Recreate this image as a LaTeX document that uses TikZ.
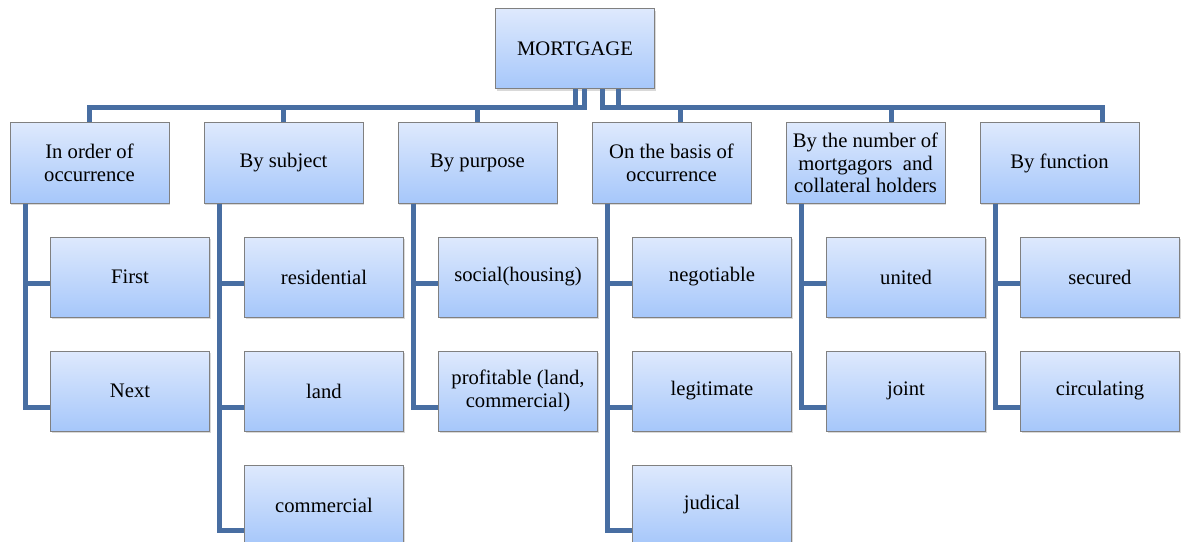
\documentclass[tikz,border=0pt]{standalone}
\usepackage{fontspec}
\setmainfont{Liberation Serif}
\newfontfamily\boxfont{Liberation Serif}
\usepackage{tikz}
\usetikzlibrary{shadows}

\definecolor{boxtop}{RGB}{222,233,253}
\definecolor{boxbot}{RGB}{166,199,250}
\definecolor{boxgray}{RGB}{128,128,128}
\definecolor{linkblue}{RGB}{72,110,162}

\begin{document}
\begin{tikzpicture}[node distance=145.5pt, font=\boxfont\fontsize{15.5}{17}\selectfont]

        \tikzstyle{box}=[draw=boxgray, line width=0.75pt, top color=boxtop, bottom color=boxbot,
            minimum width=119.25pt, minimum height=60pt, inner sep=2pt, align=center,
            drop shadow={shadow xshift=1pt, shadow yshift=-1.5pt, opacity=0.3}]
        \tikzstyle{link}=[draw=linkblue, line width=3.75pt]

        \useasboundingbox (0,0) rectangle (886.5pt,-406.5pt);

        \node[box] (m) at (431.25pt,-36.75pt) {MORTGAGE};

        \node[box] (a) at (67.125pt,-122.25pt) {In order of\\occurrence};
        \node[box] (b) [right of=a] {By subject};
        \node[box] (c) [right of=b] {By purpose};
        \node[box] (d) [right of=c] {On the basis of\\occurrence};
        \node[box] (e) [right of=d] {By the number of\\mortgagors\ \ and\\collateral holders};
        \node[box] (f) [right of=e] {By function};

        \node[box] (a1) [below of=a, node distance=85.5pt, xshift=30.375pt] {First};
        \node[box] (a2) [below of=a1, node distance=85.5pt] {Next};

        \node[box] (b1) [below of=b, node distance=85.5pt, xshift=30.375pt] {residential};
        \node[box] (b2) [below of=b1, node distance=85.5pt] {land};
        \node[box] (b3) [below of=b2, node distance=85.5pt] {commercial};

        \node[box] (c1) [below of=c, node distance=85.5pt, xshift=30.375pt] {social(housing)};
        \node[box] (c2) [below of=c1, node distance=85.5pt] {profitable (land,\\commercial)};

        \node[box] (d1) [below of=d, node distance=85.5pt, xshift=30.375pt] {negotiable};
        \node[box] (d2) [below of=d1, node distance=85.5pt] {legitimate};
        \node[box] (d3) [below of=d2, node distance=85.5pt] {judical};

        \node[box] (e1) [below of=e, node distance=85.5pt, xshift=30.375pt] {united};
        \node[box] (e2) [below of=e1, node distance=85.5pt] {joint};

        \node[box] (f1) [below of=f, node distance=85.5pt, xshift=30.375pt] {secured};
        \node[box] (f2) [below of=f1, node distance=85.5pt] {circulating};

        \draw[link] (m.south) -- ++(0,-13.5pt) -| (a.north);
        \draw[link] ([xshift=6.75pt]m.south) -- ++(0,-13.5pt) -| (b.north);
        \draw[link] ([xshift=6.75pt]m.south) -- ++(0,-13.5pt) -| (c.north);
        \draw[link] ([xshift=20.25pt]m.south) -- ++(0,-13.5pt) -| ([xshift=7pt]d.north);
        \draw[link] ([xshift=32.25pt]m.south) -- ++(0,-13.5pt) -| ([xshift=19.5pt]e.north);
        \draw[link] ([xshift=32.25pt]m.south) -- ++(0,-13.5pt) -| ([xshift=32.6pt]f.north);

        \draw[link] ([xshift=12pt]a.south west) |- ([yshift=-4.5pt]a1.west);
        \draw[link] ([xshift=12pt]a.south west) |- ([yshift=-12pt]a2.west);

        \draw[link] ([xshift=12pt]b.south west) |- ([yshift=-4.5pt]b1.west);
        \draw[link] ([xshift=12pt]b.south west) |- ([yshift=-12pt]b2.west);
        \draw[link] ([xshift=12pt]b.south west) |- ([yshift=-18.75pt]b3.west);

        \draw[link] ([xshift=12pt]c.south west) |- ([yshift=-4.5pt]c1.west);
        \draw[link] ([xshift=12pt]c.south west) |- ([yshift=-12pt]c2.west);

        \draw[link] ([xshift=12pt]d.south west) |- ([yshift=-4.5pt]d1.west);
        \draw[link] ([xshift=12pt]d.south west) |- ([yshift=-12pt]d2.west);
        \draw[link] ([xshift=12pt]d.south west) |- ([yshift=-18.75pt]d3.west);

        \draw[link] ([xshift=12pt]e.south west) |- ([yshift=-4.5pt]e1.west);
        \draw[link] ([xshift=12pt]e.south west) |- ([yshift=-12pt]e2.west);

        \draw[link] ([xshift=12pt]f.south west) |- ([yshift=-4.5pt]f1.west);
        \draw[link] ([xshift=12pt]f.south west) |- ([yshift=-12pt]f2.west);

    \end{tikzpicture}
\end{document}
